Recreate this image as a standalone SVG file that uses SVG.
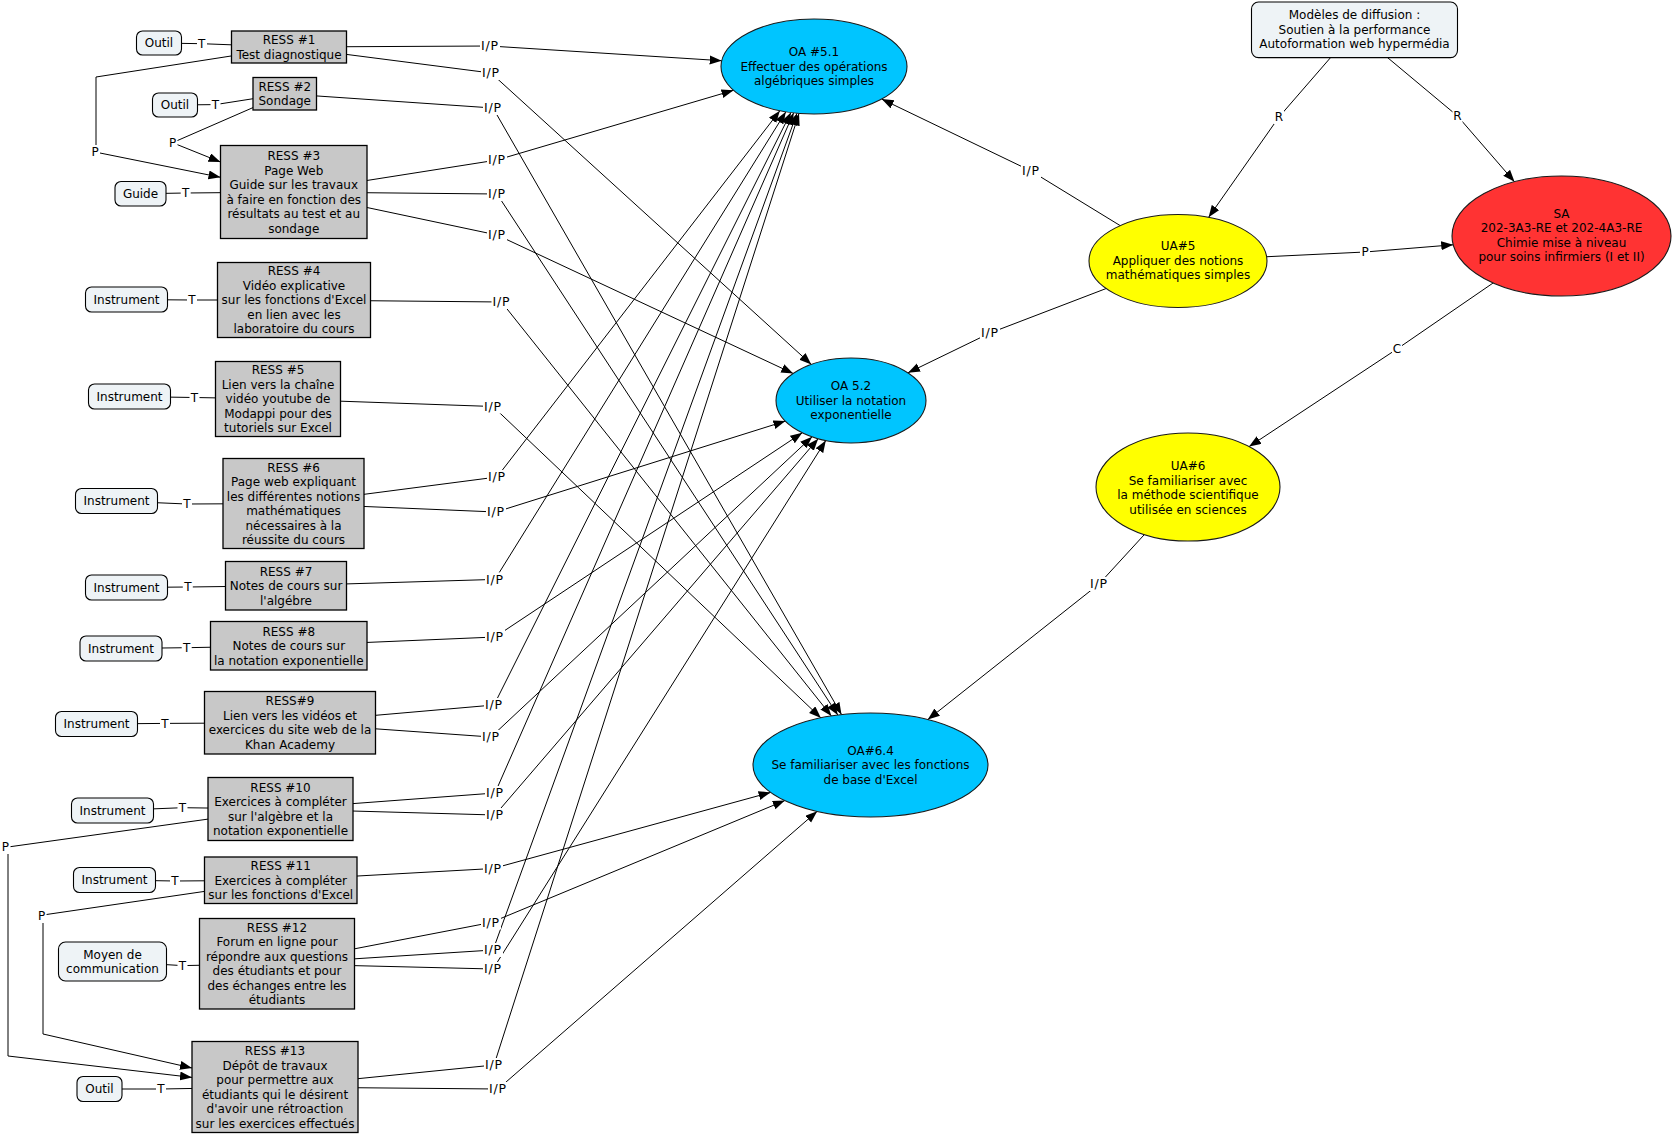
<svg xmlns="http://www.w3.org/2000/svg" width="1673" height="1134" viewBox="0 0 1673 1134">
<defs>
<style>
text{font-family:"DejaVu Sans",Verdana,sans-serif;font-size:12px;text-anchor:middle;fill:#000}
.r{fill:#c8c8c8;stroke:#000;stroke-width:1.3}
.t{fill:#eef3f6;stroke:#000;stroke-width:1.1}
.oa{fill:#00c5ff;stroke:#1a1a1a;stroke-width:1.1}
.ua{fill:#ffff00;stroke:#1a1a1a;stroke-width:1.1}
.sa{fill:#ff3333;stroke:#1a1a1a;stroke-width:1.1}
.c{fill:none;stroke:#000;stroke-width:1}
.a{marker-end:url(#ar)}
.bg{fill:#fff}
.ip{font-size:12.5px;letter-spacing:0.8px}
</style>
<marker id="ar" markerWidth="13" markerHeight="10" refX="12" refY="4.5" orient="auto" markerUnits="userSpaceOnUse"><path d="M0,0 L12,4.5 L0,9 z" fill="#000"/></marker>
</defs>
<rect width="1673" height="1134" fill="#fff"/>
<g id="connectors">
<path class="c a" d="M289,47 L490,46 L721.7,60.7"/>
<path class="c a" d="M289,47 L491,73 L811.3,364.4"/>
<path class="c a" d="M284.75,93.75 L493,108 L841.5,714.6"/>
<path class="c a" d="M293.75,192 L497,160 L733.5,90.3"/>
<path class="c a" d="M293.75,192 L497,194 L837.8,715"/>
<path class="c a" d="M293.75,192 L497,235 L793.2,373.5"/>
<path class="c a" d="M294,300 L501.5,302 L831.4,716"/>
<path class="c a" d="M278,399 L493,406.5 L820.9,717.9"/>
<path class="c a" d="M293.5,503.5 L497,477 L779.9,110.7"/>
<path class="c a" d="M293.5,503.5 L496,512 L785.4,421.1"/>
<path class="c a" d="M286,585.75 L495,579.4 L785.85,111.8"/>
<path class="c a" d="M288.75,645.75 L495,637 L802.3,432.8"/>
<path class="c a" d="M290,722.75 L494,705 L790.9,112.5"/>
<path class="c a" d="M290,722.75 L491,737 L812.1,436.8"/>
<path class="c a" d="M280.5,809 L495,793 L793.65,112.85"/>
<path class="c a" d="M280.5,809 L495,815 L818.2,438.7"/>
<path class="c a" d="M280.75,880.25 L493,868.5 L770.6,792.4"/>
<path class="c a" d="M277,963.75 L491,922.5 L784.8,800.6"/>
<path class="c a" d="M277,963.75 L493,950 L797,113.2"/>
<path class="c a" d="M277,963.75 L493,969 L825.8,440.5"/>
<path class="c a" d="M275,1087 L494,1065 L799,113.4"/>
<path class="c a" d="M275,1087 L498,1089 L817.2,811.3"/>
<path class="c a" d="M1178,261 L1031,171 L881.7,99.1"/>
<path class="c a" d="M1178,261 L990,333 L908,372.8"/>
<path class="c a" d="M1188,487 L1099,584 L927.8,719.6"/>
<path class="c a" d="M1354.5,30 L1279,117 L1208.6,217.3"/>
<path class="c a" d="M1354.5,30 L1457.5,116 L1514.5,181.8"/>
<path class="c a" d="M1178,261 L1365,252 L1453.2,244.8"/>
<path class="c a" d="M1561.5,236 L1397,349 L1249.1,446.6"/>
<path class="c" d="M159,43 L201.7,43.7 L289,47"/>
<path class="c" d="M175,105 L215.5,104.6 L284.75,93.75"/>
<path class="c" d="M140.5,193.75 L185.7,193 L293.75,192"/>
<path class="c" d="M126.5,299.5 L192,300 L294,300"/>
<path class="c" d="M129.5,396.5 L194.5,397.5 L278,399"/>
<path class="c" d="M116.5,501 L187,504 L293.5,503.5"/>
<path class="c" d="M126.5,587.5 L187.8,587 L286,585.75"/>
<path class="c" d="M121,648.5 L186.7,647.7 L288.75,645.75"/>
<path class="c" d="M96.5,724 L165,723.4 L290,722.75"/>
<path class="c" d="M112.5,810.5 L182.5,807.7 L280.5,809"/>
<path class="c" d="M114.5,880 L175,881 L280.75,880.25"/>
<path class="c" d="M112.5,961.5 L182.5,965.6 L277,963.75"/>
<path class="c" d="M99.5,1089 L161,1089 L275,1087"/>
<path class="c" d="M289,47 L96,77 L96,145"/>
<path class="c a" d="M95,152 L220.5,177.3"/>
<path class="c" d="M284.75,93.75 L172.5,142.7"/>
<path class="c a" d="M172.5,142.7 L220.5,162"/>
<path class="c" d="M280.5,809 L8,847"/>
<path class="c a" d="M8,847 L8,1056 L192,1077.4"/>
<path class="c" d="M280.75,880.25 L43,915"/>
<path class="c a" d="M43,915 L43,1034 L192,1068"/>
</g>
<g id="labels">
<g class="ip">
<rect class="bg" x="480" y="39" width="20" height="14"/><text x="490" y="50.3" class="ip">I/P</text>
<rect class="bg" x="481" y="66" width="20" height="14"/><text x="491" y="77.3" class="ip">I/P</text>
<rect class="bg" x="483" y="101" width="20" height="14"/><text x="493" y="112.3" class="ip">I/P</text>
<rect class="bg" x="487" y="153" width="20" height="14"/><text x="497" y="164.3" class="ip">I/P</text>
<rect class="bg" x="487" y="187" width="20" height="14"/><text x="497" y="198.3" class="ip">I/P</text>
<rect class="bg" x="487" y="228" width="20" height="14"/><text x="497" y="239.3" class="ip">I/P</text>
<rect class="bg" x="491.5" y="295" width="20" height="14"/><text x="501.5" y="306.3" class="ip">I/P</text>
<rect class="bg" x="483" y="399.5" width="20" height="14"/><text x="493" y="410.8" class="ip">I/P</text>
<rect class="bg" x="487" y="470" width="20" height="14"/><text x="497" y="481.3" class="ip">I/P</text>
<rect class="bg" x="486" y="505" width="20" height="14"/><text x="496" y="516.3" class="ip">I/P</text>
<rect class="bg" x="485" y="572.4" width="20" height="14"/><text x="495" y="583.7" class="ip">I/P</text>
<rect class="bg" x="485" y="630" width="20" height="14"/><text x="495" y="641.3" class="ip">I/P</text>
<rect class="bg" x="484" y="698" width="20" height="14"/><text x="494" y="709.3" class="ip">I/P</text>
<rect class="bg" x="481" y="730" width="20" height="14"/><text x="491" y="741.3" class="ip">I/P</text>
<rect class="bg" x="485" y="786" width="20" height="14"/><text x="495" y="797.3" class="ip">I/P</text>
<rect class="bg" x="485" y="808" width="20" height="14"/><text x="495" y="819.3" class="ip">I/P</text>
<rect class="bg" x="483" y="861.5" width="20" height="14"/><text x="493" y="872.8" class="ip">I/P</text>
<rect class="bg" x="481" y="915.5" width="20" height="14"/><text x="491" y="926.8" class="ip">I/P</text>
<rect class="bg" x="483" y="943" width="20" height="14"/><text x="493" y="954.3" class="ip">I/P</text>
<rect class="bg" x="483" y="962" width="20" height="14"/><text x="493" y="973.3" class="ip">I/P</text>
<rect class="bg" x="484" y="1058" width="20" height="14"/><text x="494" y="1069.3" class="ip">I/P</text>
<rect class="bg" x="488" y="1082" width="20" height="14"/><text x="498" y="1093.3" class="ip">I/P</text>
<rect class="bg" x="1021" y="164" width="20" height="14"/><text x="1031" y="175.3" class="ip">I/P</text>
<rect class="bg" x="980" y="326" width="20" height="14"/><text x="990" y="337.3" class="ip">I/P</text>
<rect class="bg" x="1089" y="577" width="20" height="14"/><text x="1099" y="588.3" class="ip">I/P</text>
</g>
<g>
<rect class="bg" x="197" y="37" width="10" height="14"/><text x="201.7" y="48">T</text>
<rect class="bg" x="210.5" y="97.6" width="10" height="14"/><text x="215.5" y="108.9">T</text>
<rect class="bg" x="180.7" y="186" width="10" height="14"/><text x="185.7" y="197.3">T</text>
<rect class="bg" x="187" y="293" width="10" height="14"/><text x="192" y="304.3">T</text>
<rect class="bg" x="189.5" y="390.5" width="10" height="14"/><text x="194.5" y="401.8">T</text>
<rect class="bg" x="182" y="497" width="10" height="14"/><text x="187" y="508.3">T</text>
<rect class="bg" x="182.8" y="580" width="10" height="14"/><text x="187.8" y="591.3">T</text>
<rect class="bg" x="181.7" y="640.7" width="10" height="14"/><text x="186.7" y="652">T</text>
<rect class="bg" x="160" y="716.4" width="10" height="14"/><text x="165" y="727.7">T</text>
<rect class="bg" x="177.5" y="800.7" width="10" height="14"/><text x="182.5" y="812">T</text>
<rect class="bg" x="170" y="874" width="10" height="14"/><text x="175" y="885.3">T</text>
<rect class="bg" x="177.5" y="958.6" width="10" height="14"/><text x="182.5" y="969.9">T</text>
<rect class="bg" x="156" y="1082" width="10" height="14"/><text x="161" y="1093.3">T</text>
<rect class="bg" x="90" y="145" width="10" height="14"/><text x="95" y="156.3">P</text>
<rect class="bg" x="167.5" y="135.7" width="10" height="14"/><text x="172.5" y="147">P</text>
<rect class="bg" x="0.5" y="840" width="10" height="14"/><text x="5.3" y="851.3">P</text>
<rect class="bg" x="36.6" y="909" width="10" height="14"/><text x="41.6" y="920.3">P</text>
<rect class="bg" x="1274" y="110" width="10" height="14"/><text x="1279" y="121.3">R</text>
<rect class="bg" x="1452.5" y="109" width="10" height="14"/><text x="1457.5" y="120.3">R</text>
<rect class="bg" x="1360" y="245" width="10" height="14"/><text x="1365" y="256.3">P</text>
<rect class="bg" x="1392" y="342" width="10" height="14"/><text x="1397" y="353.3">C</text>
</g>
</g>
<g id="n-ress1"><rect class="r" x="231.5" y="31" width="115" height="32"/><text x="289" y="44"><tspan x="289">RESS #1</tspan><tspan x="289" dy="14.5">Test diagnostique</tspan></text></g>
<g id="n-ress2"><rect class="r" x="253" y="77.5" width="63.5" height="32.5"/><text x="284.75" y="90.8"><tspan x="284.75">RESS #2</tspan><tspan x="284.75" dy="14.5">Sondage</tspan></text></g>
<g id="n-ress3"><rect class="r" x="220.5" y="145.5" width="146.5" height="93"/><text x="293.75" y="160"><tspan x="293.75">RESS #3</tspan><tspan x="293.75" dy="14.5">Page Web</tspan><tspan x="293.75" dy="14.5">Guide sur les travaux</tspan><tspan x="293.75" dy="14.5">à faire en fonction des</tspan><tspan x="293.75" dy="14.5">résultats au test et au</tspan><tspan x="293.75" dy="14.5">sondage</tspan></text></g>
<g id="n-ress4"><rect class="r" x="217.5" y="262.5" width="153" height="75"/><text x="294" y="275.3"><tspan x="294">RESS #4</tspan><tspan x="294" dy="14.5">Vidéo explicative</tspan><tspan x="294" dy="14.5">sur les fonctions d'Excel</tspan><tspan x="294" dy="14.5">en lien avec les</tspan><tspan x="294" dy="14.5">laboratoire du cours</tspan></text></g>
<g id="n-ress5"><rect class="r" x="215.5" y="361.5" width="125" height="75"/><text x="278" y="374.3"><tspan x="278">RESS #5</tspan><tspan x="278" dy="14.5">Lien vers la chaîne</tspan><tspan x="278" dy="14.5">vidéo youtube de</tspan><tspan x="278" dy="14.5">Modappi pour des</tspan><tspan x="278" dy="14.5">tutoriels sur Excel</tspan></text></g>
<g id="n-ress6"><rect class="r" x="223" y="458.5" width="141" height="90"/><text x="293.5" y="471.5"><tspan x="293.5">RESS #6</tspan><tspan x="293.5" dy="14.5">Page web expliquant</tspan><tspan x="293.5" dy="14.5">les différentes notions</tspan><tspan x="293.5" dy="14.5">mathématiques</tspan><tspan x="293.5" dy="14.5">nécessaires à la</tspan><tspan x="293.5" dy="14.5">réussite du cours</tspan></text></g>
<g id="n-ress7"><rect class="r" x="225.5" y="561.5" width="121" height="48.5"/><text x="286" y="575.5"><tspan x="286">RESS #7</tspan><tspan x="286" dy="14.5">Notes de cours sur</tspan><tspan x="286" dy="14.5">l'algébre</tspan></text></g>
<g id="n-ress8"><rect class="r" x="210.5" y="621.5" width="156.5" height="48.5"/><text x="288.75" y="635.5"><tspan x="288.75">RESS #8</tspan><tspan x="288.75" dy="14.5">Notes de cours sur</tspan><tspan x="288.75" dy="14.5">la notation exponentielle</tspan></text></g>
<g id="n-ress9"><rect class="r" x="204.5" y="691.5" width="171" height="62.5"/><text x="290" y="705.3"><tspan x="290">RESS#9</tspan><tspan x="290" dy="14.5">Lien vers les vidéos et</tspan><tspan x="290" dy="14.5">exercices du site web de la</tspan><tspan x="290" dy="14.5">Khan Academy</tspan></text></g>
<g id="n-ress10"><rect class="r" x="208" y="777.5" width="145" height="63"/><text x="280.5" y="791.5"><tspan x="280.5">RESS #10</tspan><tspan x="280.5" dy="14.5">Exercices à compléter</tspan><tspan x="280.5" dy="14.5">sur l'algèbre et la</tspan><tspan x="280.5" dy="14.5">notation exponentielle</tspan></text></g>
<g id="n-ress11"><rect class="r" x="204.5" y="857" width="152.5" height="46.5"/><text x="280.75" y="870"><tspan x="280.75">RESS #11</tspan><tspan x="280.75" dy="14.5">Exercices à compléter</tspan><tspan x="280.75" dy="14.5">sur les fonctions d'Excel</tspan></text></g>
<g id="n-ress12"><rect class="r" x="199.5" y="918.5" width="155" height="90.5"/><text x="277" y="931.8"><tspan x="277">RESS #12</tspan><tspan x="277" dy="14.5">Forum en ligne pour</tspan><tspan x="277" dy="14.5">répondre aux questions</tspan><tspan x="277" dy="14.5">des étudiants et pour</tspan><tspan x="277" dy="14.5">des échanges entre les</tspan><tspan x="277" dy="14.5">étudiants</tspan></text></g>
<g id="n-ress13"><rect class="r" x="192" y="1041.5" width="166" height="91"/><text x="275" y="1055"><tspan x="275">RESS #13</tspan><tspan x="275" dy="14.5">Dépôt de travaux</tspan><tspan x="275" dy="14.5">pour permettre aux</tspan><tspan x="275" dy="14.5">étudiants qui le désirent</tspan><tspan x="275" dy="14.5">d'avoir une rétroaction</tspan><tspan x="275" dy="14.5">sur les exercices effectués</tspan></text></g>
<g id="n-outil1"><rect class="t" x="136.5" y="31" width="45" height="24" rx="6"/><text x="159" y="47.3">Outil</text></g>
<g id="n-outil2"><rect class="t" x="152.5" y="93" width="45" height="24" rx="6"/><text x="175" y="109.3">Outil</text></g>
<g id="n-guide"><rect class="t" x="115" y="181.5" width="51" height="24.5" rx="6"/><text x="140.5" y="198">Guide</text></g>
<g id="n-inst4"><rect class="t" x="85.5" y="287" width="82" height="25" rx="6"/><text x="126.5" y="303.8">Instrument</text></g>
<g id="n-inst5"><rect class="t" x="88.5" y="384" width="82" height="25" rx="6"/><text x="129.5" y="400.8">Instrument</text></g>
<g id="n-inst6"><rect class="t" x="75.5" y="488.5" width="82" height="25" rx="6"/><text x="116.5" y="505.3">Instrument</text></g>
<g id="n-inst7"><rect class="t" x="85.5" y="575" width="82" height="25" rx="6"/><text x="126.5" y="591.8">Instrument</text></g>
<g id="n-inst8"><rect class="t" x="80" y="636" width="82" height="25" rx="6"/><text x="121" y="652.8">Instrument</text></g>
<g id="n-inst9"><rect class="t" x="55.5" y="711.5" width="82" height="25" rx="6"/><text x="96.5" y="728.3">Instrument</text></g>
<g id="n-inst10"><rect class="t" x="71.5" y="798" width="82" height="25" rx="6"/><text x="112.5" y="814.8">Instrument</text></g>
<g id="n-inst11"><rect class="t" x="73.5" y="867.5" width="82" height="25" rx="6"/><text x="114.5" y="884.3">Instrument</text></g>
<g id="n-moyen"><rect class="t" x="58.5" y="942" width="108" height="39" rx="7"/><text x="112.5" y="958.5"><tspan x="112.5">Moyen de</tspan><tspan x="112.5" dy="14.5">communication</tspan></text></g>
<g id="n-outil13"><rect class="t" x="77" y="1076.5" width="45" height="25" rx="6"/><text x="99.5" y="1093.3">Outil</text></g>
<g id="n-oa51"><ellipse class="oa" cx="814" cy="66.5" rx="93" ry="47.5"/><text x="814" y="56.3"><tspan x="814">OA #5.1</tspan><tspan x="814" dy="14.5">Effectuer des opérations</tspan><tspan x="814" dy="14.5">algébriques simples</tspan></text></g>
<g id="n-oa52"><ellipse class="oa" cx="851" cy="400.5" rx="75" ry="42.5"/><text x="851" y="390.3"><tspan x="851">OA 5.2</tspan><tspan x="851" dy="14.5">Utiliser la notation</tspan><tspan x="851" dy="14.5">exponentielle</tspan></text></g>
<g id="n-oa64"><ellipse class="oa" cx="870.5" cy="765" rx="117.5" ry="52"/><text x="870.5" y="754.8"><tspan x="870.5">OA#6.4</tspan><tspan x="870.5" dy="14.5">Se familiariser avec les fonctions</tspan><tspan x="870.5" dy="14.5">de base d'Excel</tspan></text></g>
<g id="n-modeles"><rect class="t" x="1251.5" y="2" width="206" height="55.6" rx="7"/><text x="1354.5" y="19.1"><tspan x="1354.5">Modèles de diffusion :</tspan><tspan x="1354.5" dy="14.5">Soutien à la performance</tspan><tspan x="1354.5" dy="14.5">Autoformation web hypermédia</tspan></text></g>
<g id="n-ua5"><ellipse class="ua" cx="1178" cy="261" rx="89" ry="46.5"/><text x="1178" y="250"><tspan x="1178">UA#5</tspan><tspan x="1178" dy="14.5">Appliquer des notions</tspan><tspan x="1178" dy="14.5">mathématiques simples</tspan></text></g>
<g id="n-sa"><ellipse class="sa" cx="1561.5" cy="236" rx="109.5" ry="60"/><text x="1561.5" y="217.5"><tspan x="1561.5">SA</tspan><tspan x="1561.5" dy="14.5">202-3A3-RE et 202-4A3-RE</tspan><tspan x="1561.5" dy="14.5">Chimie mise à niveau</tspan><tspan x="1561.5" dy="14.5">pour soins infirmiers (I et II)</tspan></text></g>
<g id="n-ua6"><ellipse class="ua" cx="1188" cy="487" rx="92" ry="54"/><text x="1188" y="470"><tspan x="1188">UA#6</tspan><tspan x="1188" dy="14.5">Se familiariser avec</tspan><tspan x="1188" dy="14.5">la méthode scientifique</tspan><tspan x="1188" dy="14.5">utilisée en sciences</tspan></text></g>
</svg>
